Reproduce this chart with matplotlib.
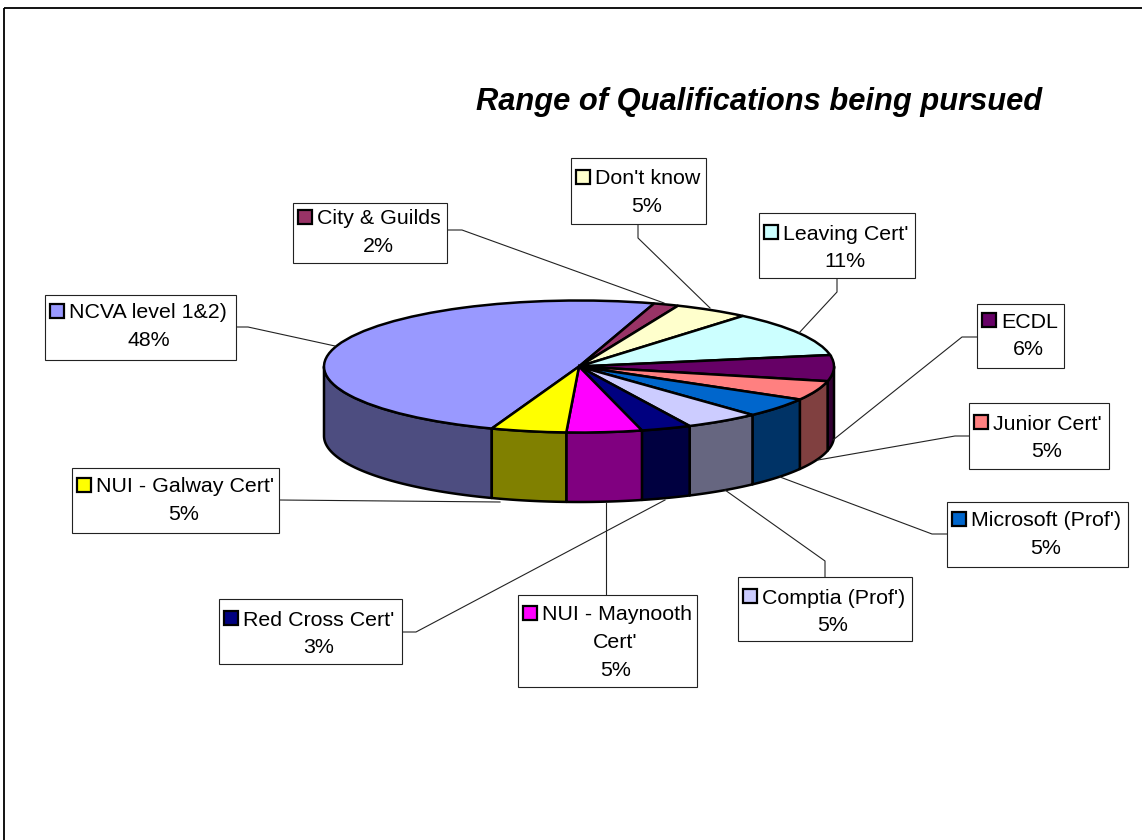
import numpy as np
import matplotlib
matplotlib.use('Agg')
import matplotlib.pyplot as plt
from matplotlib.patches import Rectangle

plt.rcParams['font.family'] = ['Liberation Sans', 'DejaVu Sans']

categorias = ['NCVA level 1&2)', 'City & Guilds', "Don't know", "Leaving Cert'", 'ECDL',
              "Junior Cert'", "Microsoft (Prof')", "Comptia (Prof')",
              "Red Cross Cert'", "NUI - Maynooth\nCert'", "NUI - Galway Cert'"]
cuentas = [31, 1, 3, 7, 4, 3, 3, 3, 2, 3, 3]
porcentajes = ['48%', '2%', '5%', '11%', '6%', '5%', '5%', '5%', '3%', '5%', '5%']

colores = ['#9999FF', '#993366', '#FFFFCC', '#CCFFFF', '#660066', '#FF8080',
           '#0066CC', '#CCCCFF', '#000080', '#FF00FF', '#FFFF00']
colores_lado = ['#4D4D80', '#4D1A33', '#808066', '#668080', '#330033', '#804040',
                '#003366', '#666680', '#000040', '#800080', '#808000']

cajas = [(45, 295, 236, 360), (293, 203, 447, 263), (571, 158, 706, 224),
         (759, 213, 915, 278), (977, 304, 1064, 368), (969, 403, 1109, 469),
         (947, 502, 1128, 567), (738, 577, 912, 641), (219, 599, 402, 664),
         (518, 595, 697, 687), (72, 468, 279, 533)]
primera_fila = [311, 217, 177, 232, 320, 422, 519, 596, 618, 613, 485]
guias = [[(236, 327), (248, 327), (335, 346)],
         [(447, 230), (462, 230), (664, 303)],
         [(638, 224), (638, 238), (710, 308)],
         [(837, 278), (837, 292), (799, 333)],
         [(977, 337), (962, 337), (833, 440)],
         [(969, 436), (955, 436), (818, 460)],
         [(947, 534), (932, 534), (780, 477)],
         [(825, 577), (825, 561), (725, 490)],
         [(402, 632), (416, 632), (665, 500)],
         [(606, 595), (606, 502)],
         [(279, 500), (500, 502)]]

ancho, alto = 1142, 840
cx, cy, rx, ry = 579, 366.5, 255, 66
prof = 69.5 / ry

fig = plt.figure(figsize=(ancho / 100, alto / 100), dpi=100, facecolor='white')

ax = fig.add_axes([0, 0, 1, 1])
wedges, _ = ax.pie(cuentas, colors=colores, startangle=250, counterclock=False, radius=1,
                   wedgeprops={'edgecolor': 'black', 'linewidth': 1.8, 'zorder': 3})
ax.set_aspect('auto')
ax.set_xlim(-cx / rx, (ancho - cx) / rx)
ax.set_ylim((cy - alto) / ry, cy / ry)
ax.axis('off')

# caras laterales, solo la mitad de abajo se ve
for w, c in zip(wedges, colores_lado):
    for base in (-180, 180):
        lo = max(w.theta1, base)
        hi = min(w.theta2, base + 180)
        if hi <= lo:
            continue
        t = np.radians(np.linspace(lo, hi, 60))
        x = np.r_[np.cos(t), np.cos(t[::-1])]
        y = np.r_[np.sin(t), np.sin(t[::-1]) - prof]
        ax.fill(x, y, facecolor=c, edgecolor='black', linewidth=1.8, zorder=2,
                joinstyle='round')

pix = fig.add_axes([0, 0, 1, 1], facecolor='none')
pix.set_xlim(0, ancho)
pix.set_ylim(alto, 0)
pix.axis('off')

pix.add_patch(Rectangle((4, 8), ancho, alto, fill=False, edgecolor='black', linewidth=1.3))

pix.text(759, 102, 'Range of Qualifications being pursued', ha='center', va='center',
         fontsize=22.2, fontweight='bold', fontstyle='italic')

for g in guias:
    g = np.array(g)
    pix.plot(g[:, 0], g[:, 1], color='#222222', linewidth=0.8, zorder=1)

for caja, yt, nombre, pct, col in zip(cajas, primera_fila, categorias, porcentajes, colores):
    x0, y0, x1, y1 = caja
    pix.add_patch(Rectangle((x0, y0), x1 - x0, y1 - y0, facecolor='white',
                            edgecolor='#222222', linewidth=0.8, zorder=5))
    lineas = nombre.split('\n')
    xc = (x0 + x1) / 2
    pix.add_patch(Rectangle((x0 + 5, yt - 7), 14, 14, facecolor=col, edgecolor='black',
                            linewidth=1.6, zorder=6))
    pix.text(x0 + 24, yt + 2, lineas[0], ha='left', va='center', fontsize=15.4, zorder=6)
    for i, l in enumerate(lineas[1:], 1):
        pix.text(xc + 8, yt + 2 + i * 27.5, l, ha='center', va='center', fontsize=15.4, zorder=6)
    pix.text(xc + 8, yt + 2 + len(lineas) * 27.5, pct, ha='center', va='center', fontsize=15.4, zorder=6)

fig.savefig('out.png', dpi=100, facecolor='white')
